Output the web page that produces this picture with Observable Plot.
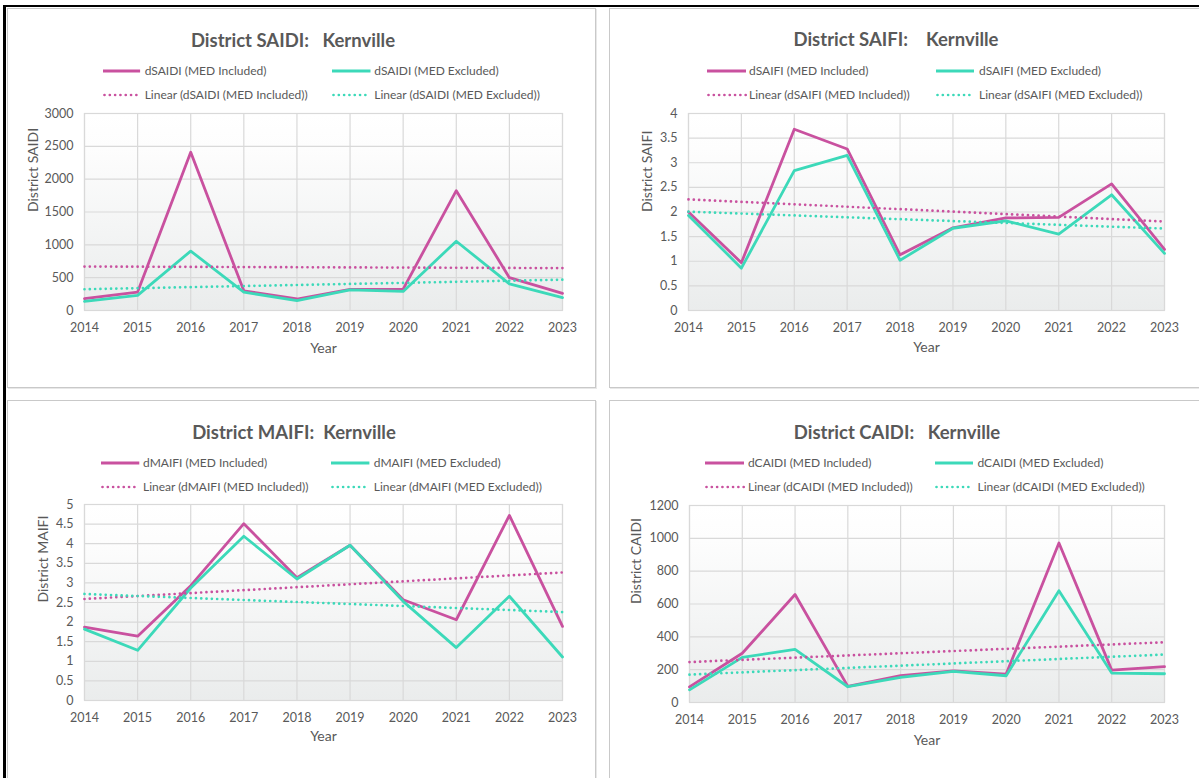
<!DOCTYPE html>
<html><head><meta charset="utf-8">
<script src="https://cdn.jsdelivr.net/npm/d3@7"></script>
<script src="https://cdn.jsdelivr.net/npm/@observablehq/plot@0.6"></script>
<style>
html,body{margin:0;padding:0}
body{width:1199px;height:778px;overflow:hidden;background:#fff;font-family:Lato,"Open Sans",sans-serif;position:relative}
.bk{position:absolute;background:#000}
.panel{position:absolute;box-sizing:border-box;border:1px solid #c9c9c9;box-shadow:1px 1px 0 #e8e8e8;background:#fff}
.title{position:absolute;transform:translate(-50%,-50%);font-weight:700;font-size:18.5px;color:#595959;white-space:pre;line-height:1}
.leg{position:absolute;font-size:12px;color:#595959;white-space:pre;transform:translateY(-50%);line-height:1}
.sw{position:absolute;overflow:visible}
.chart{position:absolute}
</style></head><body>
<div class="bk" style="left:3px;top:5px;width:1196px;height:2px"></div>
<div class="bk" style="left:3px;top:5px;width:3px;height:773px"></div>
<script>
const years = [2014, 2015, 2016, 2017, 2018, 2019, 2020, 2021, 2022, 2023];

const saidiIncluded = [180, 280, 2410, 300, 175, 320, 325, 1825, 500, 260];
const saidiExcluded = [140, 230, 905, 280, 150, 315, 290, 1055, 405, 195];
const saifiIncluded = [2.0, 0.97, 3.68, 3.28, 1.13, 1.68, 1.88, 1.89, 2.57, 1.24];
const saifiExcluded = [1.93, 0.86, 2.84, 3.15, 1.02, 1.67, 1.82, 1.55, 2.35, 1.16];
const maifiIncluded = [1.87, 1.64, 2.93, 4.51, 3.13, 3.96, 2.57, 2.06, 4.72, 1.89];
const maifiExcluded = [1.82, 1.28, 2.87, 4.19, 3.10, 3.96, 2.53, 1.35, 2.66, 1.11];
const caidiIncluded = [95, 300, 658, 98, 163, 193, 173, 972, 197, 218];
const caidiExcluded = [77, 275, 323, 96, 153, 189, 163, 681, 179, 175];

const saidiTicks = [0, 500, 1000, 1500, 2000, 2500, 3000];
const saifiTicks = [0, 0.5, 1, 1.5, 2, 2.5, 3, 3.5, 4];
const maifiTicks = [0, 0.5, 1, 1.5, 2, 2.5, 3, 3.5, 4, 4.5, 5];
const caidiTicks = [0, 200, 400, 600, 800, 1000, 1200];

const titles = ["District SAIDI:   Kernville", "District SAIFI:    Kernville", "District MAIFI:  Kernville", "District CAIDI:   Kernville"];
const yTitles = ["District SAIDI", "District SAIFI", "District MAIFI", "District CAIDI"];
const xTitle = "Year";
const metrics = ["dSAIDI", "dSAIFI", "dMAIFI", "dCAIDI"];
const seriesNames = ["MED Included", "MED Excluded"];

const PINK = "#c9519f";
const TEAL = "#3cd9b9";
const DOTS = "0.01 5.3";

const panels = [
  {box:[7,8,589,380], frame:[84,113,562,310], titleAt:[293,39.5], legRows:[71,94.5], legX:[[102.6,139.7,144.7],[332,370.5,374.3]], yDx:-51, xDy:42,
   inc:saidiIncluded, exc:saidiExcluded, ticks:saidiTicks},
  {box:[609,8,600,380], frame:[688,113,1164,310], titleAt:[896,38.5], legRows:[71,94.5], legX:[[707,746,749],[936,974,979]], yDx:-41, xDy:41,
   inc:saifiIncluded, exc:saifiExcluded, ticks:saifiTicks},
  {box:[7,400,589,400], frame:[84,504,562,700], titleAt:[294,431.7], legRows:[463.3,487.3], legX:[[100.5,138.8,143],[330.5,368.9,373.8]], yDx:-41, xDy:40,
   inc:maifiIncluded, exc:maifiExcluded, ticks:maifiTicks},
  {box:[609,400,600,400], frame:[689,505,1164,702], titleAt:[897,431.7], legRows:[463.3,487.3], legX:[[705,744,748],[935,973,977.5]], yDx:-53, xDy:42,
   inc:caidiIncluded, exc:caidiExcluded, ticks:caidiTicks}
];

const body = document.body;

function addDiv(cls, style, text) {
  const d = document.createElement("div");
  d.className = cls;
  Object.assign(d.style, style);
  if (text != null) d.textContent = text;
  body.appendChild(d);
  return d;
}

function swatch(x1, x2, y, color, dotted) {
  const s = d3.create("svg").attr("class", "sw")
    .attr("width", x2 - x1).attr("height", 6)
    .style("left", x1 + "px").style("top", (y - 3) + "px");
  s.append("line").attr("x1", dotted ? 1.5 : 0).attr("x2", x2 - x1).attr("y1", 3).attr("y2", 3)
    .attr("stroke", color).attr("stroke-width", dotted ? 2.7 : 3)
    .attr("stroke-linecap", dotted ? "round" : "butt")
    .attr("stroke-dasharray", dotted ? DOTS : null);
  body.appendChild(s.node());
}

panels.forEach((p, k) => {
  const [bl, bt, bw, bh] = p.box;
  addDiv("panel", {left: bl + "px", top: bt + "px", width: bw + "px", height: bh + "px"});
  addDiv("title", {left: p.titleAt[0] + "px", top: p.titleAt[1] + "px"}, titles[k]);

  const m = metrics[k];
  const entries = [
    [0, 0, `${m} (${seriesNames[0]})`, PINK, false],
    [0, 1, `${m} (${seriesNames[1]})`, TEAL, false],
    [1, 0, `Linear (${m} (${seriesNames[0]}))`, PINK, true],
    [1, 1, `Linear (${m} (${seriesNames[1]}))`, TEAL, true]
  ];
  entries.forEach(([row, col, label, color, dotted]) => {
    const [sx1, sx2, tx] = p.legX[col];
    const y = p.legRows[row];
    swatch(sx1, sx2, y, color, dotted);
    addDiv("leg", {left: tx + "px", top: y + "px"}, label);
  });

  const [fl, ft, fr, fb] = p.frame;
  const svgLeft = bl + 10;
  const svgTop = ft - 20;
  const width = (bl + bw - 6) - svgLeft;
  const height = fb - ft + 80;
  const inc = years.map((y, i) => ({year: y, value: p.inc[i]}));
  const exc = years.map((y, i) => ({year: y, value: p.exc[i]}));
  const gid = "grad" + k;
  const ymax = p.ticks[p.ticks.length - 1];

  const svg = Plot.plot({
    width, height,
    marginLeft: fl - svgLeft,
    marginRight: svgLeft + width - fr,
    marginTop: ft - svgTop,
    marginBottom: height - (fb - svgTop),
    style: {background: "transparent", fontFamily: "Lato, 'Open Sans', sans-serif", fontSize: "12px", color: "#595959", overflow: "visible"},
    x: {domain: [years[0], years[years.length - 1]]},
    y: {domain: [0, ymax]},
    marks: [
      Plot.frame({fill: `url(#${gid})`, stroke: "none"}),
      Plot.gridX({ticks: years, stroke: "#d9d9d9", strokeOpacity: 1, strokeWidth: 1.2}),
      Plot.gridY({ticks: p.ticks, stroke: "#d9d9d9", strokeOpacity: 1, strokeWidth: 1.2}),
      Plot.frame({stroke: "#d9d9d9", strokeWidth: 1.2}),
      Plot.axisX({ticks: years, tickFormat: d3.format("d"), tickSize: 0, tickPadding: 13, label: null, fontSize: 12.5}),
      Plot.axisY({ticks: p.ticks, tickFormat: d => String(d), tickSize: 0, tickPadding: 11, label: null, fontSize: 12.5}),
      Plot.text([xTitle], {frameAnchor: "bottom", dy: p.xDy, fontSize: 14, fill: "#595959"}),
      Plot.text([yTitles[k]], {frameAnchor: "left", dx: p.yDx, rotate: -90, fontSize: 14, fill: "#595959"}),
      Plot.line(inc, {x: "year", y: "value", stroke: PINK, strokeWidth: 2.8}),
      Plot.line(exc, {x: "year", y: "value", stroke: TEAL, strokeWidth: 2.8}),
      Plot.linearRegressionY(inc, {x: "year", y: "value", stroke: PINK, strokeWidth: 2.7, strokeDasharray: DOTS, strokeLinecap: "round", ci: 0}),
      Plot.linearRegressionY(exc, {x: "year", y: "value", stroke: TEAL, strokeWidth: 2.7, strokeDasharray: DOTS, strokeLinecap: "round", ci: 0})
    ]
  });
  const defs = d3.select(svg).insert("defs", ":first-child");
  const g = defs.append("linearGradient").attr("id", gid).attr("x1", 0).attr("y1", 0).attr("x2", 0).attr("y2", 1);
  g.append("stop").attr("offset", "0%").attr("stop-color", "#ffffff");
  g.append("stop").attr("offset", "18%").attr("stop-color", "#fdfdfd");
  g.append("stop").attr("offset", "100%").attr("stop-color", "#eaecec");
  svg.classList.add("chart");
  svg.style.position = "absolute";
  svg.style.left = svgLeft + "px";
  svg.style.top = svgTop + "px";
  body.appendChild(svg);
});
</script>
</body></html>
